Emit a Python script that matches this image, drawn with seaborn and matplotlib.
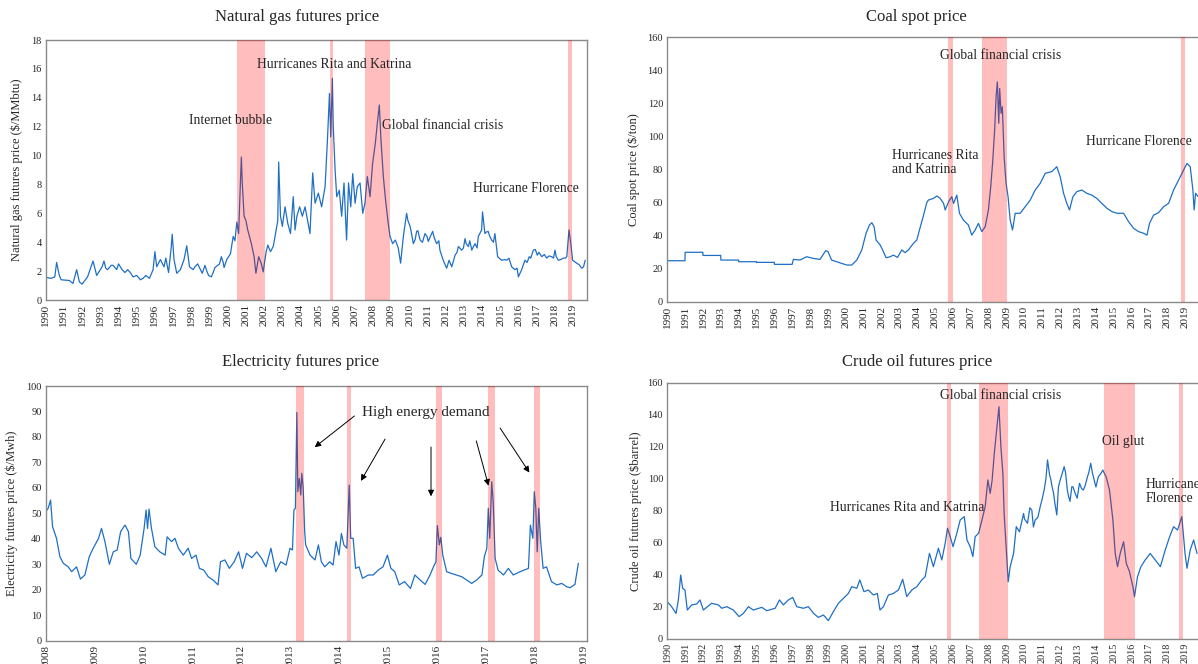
import numpy as np
import pandas as pd
import matplotlib
matplotlib.use("Agg")
import matplotlib.pyplot as plt
import seaborn as sns

# ---------------- data ----------------
gas_t = [1990.0, 1990.3, 1990.5, 1990.6, 1990.75, 1990.85, 1991.3, 1991.5, 1991.7, 1991.85, 1992.0, 1992.3,
         1992.6, 1992.8, 1993.0, 1993.2, 1993.4, 1993.6, 1993.8, 1994.0, 1994.2, 1994.5, 1994.8, 1995.0,
         1995.2, 1995.5, 1995.7, 1995.9, 1996.0, 1996.1, 1996.3, 1996.5, 1996.6, 1996.75, 1996.9, 1996.95,
         1997.05, 1997.2, 1997.4, 1997.6, 1997.75, 1997.9, 1998.1, 1998.35, 1998.6, 1998.75, 1998.95, 1999.1,
         1999.3, 1999.55, 1999.65, 1999.8, 1999.95, 2000.15, 2000.3, 2000.4, 2000.5, 2000.6, 2000.65, 2000.75,
         2000.8, 2000.9, 2001.0, 2001.1, 2001.3, 2001.45, 2001.55, 2001.7, 2001.85, 2001.95, 2002.1, 2002.2,
         2002.35, 2002.5, 2002.6, 2002.75, 2002.8, 2002.9, 2003.0, 2003.15, 2003.3, 2003.45, 2003.6, 2003.7,
         2003.8, 2003.95, 2004.1, 2004.25, 2004.52, 2004.67, 2004.8, 2004.98, 2005.16, 2005.35, 2005.48, 2005.59,
         2005.66, 2005.75, 2005.8, 2005.9, 2005.99, 2006.13, 2006.26, 2006.39, 2006.53, 2006.64, 2006.76, 2006.87,
         2007.0, 2007.12, 2007.27, 2007.42, 2007.54, 2007.67, 2007.82, 2007.96, 2008.11, 2008.22, 2008.33, 2008.42,
         2008.55, 2008.69, 2008.82, 2008.92, 2009.06, 2009.21, 2009.37, 2009.5, 2009.65, 2009.83, 2010.02, 2010.2,
         2010.38, 2010.57, 2010.84, 2011.02, 2011.26, 2011.48, 2011.66, 2011.84, 2012.03, 2012.16, 2012.31, 2012.49,
         2012.67, 2012.85, 2013.04, 2013.22, 2013.41, 2013.59, 2013.77, 2013.95, 2014.0, 2014.13, 2014.31, 2014.5,
         2014.68, 2014.83, 2015.05, 2015.33, 2015.6, 2015.78, 2015.97, 2016.15, 2016.33, 2016.57, 2016.79, 2017.01,
         2017.25, 2017.52, 2017.8, 2017.98, 2018.17, 2018.44, 2018.63, 2018.75, 2018.85, 2018.95, 2019.17, 2019.45,
         2019.64]
gas_v = [1.57, 1.5, 1.6, 2.6, 1.7, 1.4, 1.35, 1.15, 2.1, 1.25, 1.1, 1.6,
         2.7, 1.7, 2.1, 2.7, 2.1, 2.4, 2.25, 2.5, 2.1, 2.1, 1.6, 1.7,
         1.4, 1.7, 1.5, 2.1, 3.35, 2.3, 2.8, 2.3, 2.9, 1.9, 3.7, 4.55,
         2.8, 1.85, 2.1, 2.8, 3.75, 2.3, 2.1, 2.5, 1.85, 2.4, 1.7, 1.6,
         2.25, 2.5, 3.0, 2.25, 2.8, 3.2, 4.4, 4.1, 5.4, 4.6, 6.45, 9.9,
         8.1, 5.8, 5.5, 4.85, 3.9, 3.0, 1.85, 3.0, 2.5, 1.95, 3.25, 3.8,
         3.35, 3.7, 4.4, 5.5, 9.55, 5.8, 5.1, 6.45, 5.3, 4.6, 7.15, 4.85,
         5.8, 6.45, 5.8, 6.45, 4.6, 8.8, 6.7, 7.4, 6.45, 7.85, 11.1, 14.3,
         11.3, 15.35, 12.0, 9.0, 7.15, 7.6, 5.8, 8.1, 4.15, 8.1, 6.45, 8.75,
         6.7, 7.85, 8.1, 6.0, 6.7, 8.55, 7.15, 9.45, 10.85, 12.25, 13.5, 11.1,
         8.55, 6.7, 5.3, 4.4, 3.9, 4.15, 3.6, 2.55, 4.4, 6.0, 5.1, 3.9,
         4.75, 4.15, 4.6, 4.05, 4.75, 3.9, 3.45, 2.75, 2.2, 2.75, 2.3, 3.1,
         3.7, 3.45, 4.25, 3.7, 3.45, 3.9, 4.4, 4.85, 6.1, 4.6, 4.75, 4.15,
         4.6, 3.0, 2.75, 2.75, 2.3, 2.1, 1.6, 2.1, 2.75, 3.0, 3.45, 3.1,
         3.0, 2.9, 3.0, 3.45, 2.75, 2.9, 3.0, 4.85, 3.9, 2.75, 2.55, 2.2,
         2.75]
gas_t_extra = [1993.1, 1993.3, 1993.5, 1993.7, 1993.9, 1994.1, 1994.35, 1994.65, 1995.35, 1995.6,
               1998.2, 1998.5, 1998.85, 1999.2, 1999.45, 1999.75,
               2009.9, 2010.1, 2010.3, 2010.45, 2010.7, 2010.95, 2011.1, 2011.35, 2011.6, 2012.6,
               2012.75, 2012.95, 2013.1, 2013.3, 2013.5, 2013.7, 2014.2, 2014.4, 2014.6, 2015.2,
               2015.45, 2015.9, 2016.45, 2016.65, 2016.9, 2017.1, 2017.4, 2017.65, 2017.9, 2018.05,
               2018.3, 2018.55, 2019.3, 2019.55]
gas_v_extra = [2.3, 2.2, 2.25, 2.4, 2.1, 2.3, 1.9, 1.9, 1.5, 1.6,
               2.3, 2.1, 2.0, 1.9, 2.4, 2.6,
               5.5, 4.6, 4.2, 4.8, 4.0, 4.4, 4.3, 4.3, 4.1, 3.3,
               3.6, 3.6, 3.9, 4.1, 3.7, 3.6, 4.7, 4.4, 4.0, 2.8,
               2.9, 2.2, 2.6, 2.9, 3.5, 3.3, 3.15, 3.05, 2.9, 3.0,
               2.8, 2.9, 2.45, 2.3]

coal_t = [1990.0, 1990.99, 1991.0, 1991.99, 1992.0, 1992.99, 1993.0, 1993.99, 1994.0, 1994.99, 1995.0, 1995.99,
          1996.0, 1996.99, 1997.06, 1997.43, 1997.8, 1998.18, 1998.55, 1998.87, 1999.0, 1999.2, 1999.48, 1999.76,
          2000.05, 2000.33, 2000.61, 2000.89, 2001.13, 2001.32, 2001.45, 2001.58, 2001.69, 2001.92, 2002.1, 2002.25,
          2002.48, 2002.66, 2002.89, 2003.13, 2003.31, 2003.5, 2003.78, 2003.97, 2004.16, 2004.34, 2004.53, 2004.62,
          2004.9, 2005.1, 2005.28, 2005.47, 2005.56, 2005.75, 2005.93, 2006.03, 2006.21, 2006.36, 2006.58, 2006.86,
          2007.05, 2007.24, 2007.42, 2007.61, 2007.8, 2007.98, 2008.11, 2008.22, 2008.33, 2008.41, 2008.48, 2008.56,
          2008.61, 2008.69, 2008.76, 2008.86, 2008.97, 2009.08, 2009.2, 2009.33, 2009.48, 2009.76, 2010.04, 2010.32,
          2010.6, 2010.88, 2011.16, 2011.53, 2011.81, 2012.0, 2012.19, 2012.37, 2012.52, 2012.71, 2012.93, 2013.21,
          2013.49, 2013.77, 2014.05, 2014.33, 2014.62, 2014.9, 2015.18, 2015.55, 2015.83, 2016.11, 2016.39, 2016.67,
          2016.86, 2017.0, 2017.23, 2017.51, 2017.79, 2018.07, 2018.35, 2018.63, 2018.91, 2019.1, 2019.28, 2019.43,
          2019.5, 2019.58, 2019.73]
coal_v = [24.8, 24.8, 29.9, 29.9, 28.0, 28.0, 25.2, 25.2, 24.2, 24.2, 23.8, 23.8,
          22.6, 22.6, 25.6, 25.2, 27.2, 26.2, 25.6, 30.9, 30.3, 25.2, 24.2, 23.2,
          22.2, 22.2, 25.2, 31.3, 41.4, 46.4, 47.8, 45.4, 37.3, 34.3, 30.3, 26.6,
          27.2, 28.2, 26.8, 31.3, 29.7, 31.3, 35.3, 37.3, 45.0, 52.0, 60.0, 61.5,
          62.5, 64.0, 62.5, 59.5, 55.5, 60.5, 63.5, 59.5, 64.5, 53.5, 49.4, 46.4,
          40.3, 43.4, 47.4, 42.4, 45.4, 55.5, 69.6, 84.7, 103.9, 124.0, 133.0, 108.0,
          129.0, 114.0, 118.0, 87.7, 71.6, 63.5, 49.4, 43.4, 53.5, 53.5, 57.5, 61.5,
          67.6, 71.6, 77.7, 78.7, 81.7, 75.6, 65.6, 59.5, 55.5, 63.5, 66.6, 67.6,
          65.6, 64.5, 62.5, 59.5, 56.5, 54.5, 53.5, 53.5, 48.4, 44.4, 42.4, 41.4,
          40.3, 47.4, 52.4, 53.9, 57.5, 59.5, 67.6, 73.6, 79.7, 83.7, 81.7, 67.6,
          55.5, 65.6, 63.5]

elec_t = [2008.0, 2008.05, 2008.1, 2008.14, 2008.22, 2008.29, 2008.36, 2008.46, 2008.53, 2008.63, 2008.71, 2008.8,
          2008.89, 2008.97, 2009.08, 2009.14, 2009.21, 2009.3, 2009.38, 2009.46, 2009.53, 2009.62, 2009.69, 2009.74,
          2009.85, 2009.93, 2010.01, 2010.05, 2010.08, 2010.11, 2010.16, 2010.23, 2010.33, 2010.44, 2010.48, 2010.57,
          2010.64, 2010.71, 2010.81, 2010.91, 2010.98, 2011.07, 2011.14, 2011.23, 2011.32, 2011.42, 2011.52, 2011.57,
          2011.66, 2011.75, 2011.85, 2011.94, 2012.02, 2012.1, 2012.21, 2012.31, 2012.41, 2012.5, 2012.6, 2012.7,
          2012.8, 2012.91, 2012.99, 2013.04, 2013.07, 2013.1, 2013.13, 2013.15, 2013.18, 2013.21, 2013.23, 2013.26,
          2013.29, 2013.31, 2013.4, 2013.5, 2013.57, 2013.63, 2013.7, 2013.8, 2013.87, 2013.93, 2013.99, 2014.04,
          2014.09, 2014.15, 2014.2, 2014.23, 2014.28, 2014.33, 2014.4, 2014.47, 2014.59, 2014.69, 2014.79, 2014.89,
          2014.98, 2015.05, 2015.13, 2015.22, 2015.33, 2015.45, 2015.54, 2015.65, 2015.75, 2015.85, 2015.92, 2015.97,
          2016.0, 2016.04, 2016.07, 2016.11, 2016.19, 2016.29, 2016.39, 2016.5, 2016.6, 2016.7, 2016.8, 2016.91,
          2016.96, 2017.01, 2017.04, 2017.07, 2017.11, 2017.14, 2017.18, 2017.24, 2017.35, 2017.45, 2017.55, 2017.69,
          2017.86, 2017.9, 2017.95, 2017.98, 2018.01, 2018.04, 2018.07, 2018.11, 2018.16, 2018.23, 2018.33, 2018.44,
          2018.54, 2018.64, 2018.71, 2018.81, 2018.88]
elec_v = [50.6, 52.0, 55.2, 44.8, 40.2, 33.0, 30.4, 29.0, 27.1, 29.0, 24.2, 25.8,
          33.0, 36.3, 40.2, 44.1, 38.9, 30.0, 34.9, 35.6, 42.8, 45.4, 42.8, 32.3,
          30.0, 33.6, 44.1, 51.3, 44.1, 51.7, 44.1, 36.9, 34.9, 33.6, 40.8, 38.9,
          40.2, 36.3, 33.6, 36.3, 32.3, 33.6, 28.4, 27.7, 25.1, 23.8, 21.9, 31.0,
          31.7, 28.4, 31.0, 34.9, 28.4, 34.3, 32.6, 34.9, 32.3, 29.0, 36.3, 27.1,
          31.0, 29.7, 36.3, 35.6, 51.3, 52.0, 89.6, 58.5, 63.7, 57.2, 65.7, 59.8,
          42.8, 37.6, 33.6, 31.7, 37.6, 31.0, 29.0, 31.0, 29.7, 38.9, 33.6, 42.1,
          37.6, 36.3, 61.1, 40.2, 40.2, 28.4, 29.0, 24.5, 25.8, 25.8, 27.7, 29.0,
          33.6, 28.4, 27.1, 21.9, 23.2, 20.5, 25.8, 23.8, 22.1, 25.8, 29.0, 31.0,
          45.2, 37.6, 40.6, 33.6, 27.1, 26.4, 25.8, 25.1, 23.8, 22.5, 23.8, 25.8,
          33.0, 36.3, 52.0, 40.2, 62.4, 54.6, 32.3, 27.7, 25.8, 28.4, 25.8, 27.1,
          28.4, 45.4, 40.2, 58.5, 52.0, 34.9, 52.0, 38.9, 28.4, 29.0, 23.2, 21.9,
          22.5, 21.2, 20.8, 22.1, 30.4]

oil_t = [1990.0, 1990.24, 1990.49, 1990.62, 1990.75, 1990.86, 1990.99, 1991.12, 1991.37, 1991.65, 1991.83, 1992.02,
         1992.48, 1992.86, 1993.05, 1993.33, 1993.7, 1994.02, 1994.26, 1994.54, 1994.82, 1995.29, 1995.57, 1996.04,
         1996.28, 1996.5, 1996.78, 1997.02, 1997.25, 1997.62, 1997.9, 1998.19, 1998.46, 1998.74, 1999.02, 1999.3,
         1999.58, 1999.86, 2000.14, 2000.33, 2000.61, 2000.78, 2001.01, 2001.26, 2001.54, 2001.76, 2001.91, 2002.1,
         2002.38, 2002.66, 2002.94, 2003.18, 2003.41, 2003.69, 2003.97, 2004.25, 2004.44, 2004.68, 2004.9, 2005.18,
         2005.37, 2005.56, 2005.69, 2005.84, 2006.0, 2006.21, 2006.4, 2006.63, 2006.78, 2006.96, 2007.11, 2007.24,
         2007.43, 2007.62, 2007.8, 2007.95, 2008.08, 2008.19, 2008.31, 2008.42, 2008.57, 2008.68, 2008.79, 2008.86,
         2008.97, 2009.09, 2009.2, 2009.39, 2009.54, 2009.72, 2009.95, 2010.17, 2010.41, 2010.6, 2010.88, 2011.1,
         2011.29, 2011.48, 2011.63, 2011.81, 2012.0, 2012.22, 2012.47, 2012.65, 2012.84, 2013.08, 2013.3, 2013.53,
         2013.71, 2013.9, 2014.14, 2014.39, 2014.57, 2014.76, 2014.95, 2015.08, 2015.21, 2015.36, 2015.55, 2015.7,
         2015.88, 2016.07, 2016.16, 2016.33, 2016.52, 2016.76, 2017.04, 2017.32, 2017.61, 2017.88, 2018.13, 2018.35,
         2018.57, 2018.81, 2018.99, 2019.1, 2019.28, 2019.47, 2019.66]
oil_v = [23.3, 20.2, 16.0, 24.4, 40.0, 31.7, 30.6, 18.1, 21.3, 21.9, 24.4, 18.1,
         22.3, 21.3, 19.2, 20.2, 18.1, 14.0, 16.0, 20.2, 18.1, 19.8, 17.7, 19.2,
         24.4, 21.3, 24.4, 26.0, 20.2, 19.2, 20.2, 16.0, 13.5, 15.0, 11.5, 17.1,
         22.3, 25.4, 28.5, 32.7, 31.7, 36.9, 29.6, 30.6, 27.5, 28.5, 18.1, 20.2,
         27.5, 28.5, 30.6, 37.3, 26.5, 30.6, 32.7, 36.9, 39.0, 53.5, 45.2, 56.7,
         49.4, 59.8, 69.2, 64.0, 57.7, 66.0, 74.4, 76.5, 61.9, 57.7, 51.5, 64.0,
         66.0, 74.4, 82.7, 99.4, 91.0, 99.4, 116.0, 128.5, 145.2, 120.0, 103.5, 78.5,
         57.7, 35.8, 45.2, 53.5, 70.2, 67.0, 78.5, 72.3, 80.6, 74.4, 82.7, 93.1,
         111.9, 99.4, 91.0, 77.5, 99.4, 107.7, 89.0, 95.2, 91.0, 97.3, 93.1, 101.5,
         109.8, 99.4, 101.5, 105.6, 101.5, 93.1, 74.4, 53.5, 45.2, 53.5, 60.8, 47.3,
         42.1, 32.7, 26.5, 39.0, 45.2, 49.4, 53.5, 49.4, 45.2, 55.6, 64.0, 70.2,
         68.1, 76.5, 53.5, 44.2, 55.6, 61.9, 53.5]
oil_t_extra = [2010.0, 2010.3, 2010.5, 2010.75, 2011.0, 2011.2, 2011.4, 2011.55, 2011.7, 2011.9,
               2012.1, 2012.3, 2012.4, 2012.55, 2012.72, 2012.95, 2013.2, 2013.4, 2013.6, 2013.8,
               2014.0, 2014.25, 2014.45]
oil_v_extra = [75.0, 82.0, 70.0, 76.0, 88.0, 100.0, 103.0, 95.0, 85.0, 95.0,
               103.0, 104.0, 93.0, 86.0, 95.0, 88.0, 94.0, 96.0, 104.0, 104.0,
               95.0, 103.0, 104.0]

gas_years = list(range(1990, 2020))
elec_years = list(range(2008, 2020))

gas_bands = [(2000.5, 2002.05), (2005.62, 2005.8), (2007.54, 2008.9), (2018.7, 2018.9)]
coal_bands = [(2005.7, 2006.0), (2007.63, 2009.03), (2018.74, 2019.0)]
elec_bands = [(2013.11, 2013.27), (2014.16, 2014.24), (2015.97, 2016.1), (2017.03, 2017.18), (2017.97, 2018.09)]
oil_bands = [(2005.65, 2005.9), (2007.48, 2009.05), (2014.46, 2016.2), (2018.68, 2018.9)]

# ---------------- style ----------------
sns.set_style("white")
plt.rcParams["font.family"] = ["Liberation Serif", "DejaVu Serif"]

W, H = 1198, 664
fig = plt.figure(figsize=(W / 100, H / 100), dpi=100)

def rect(l, r, t, b):
    return [l / W, 1 - b / H, (r - l) / W, (b - t) / H]

LINE = "#1f6fc5"
SPINE = "#8a8a8a"

def style_axes(ax, years, xfs):
    for s in ax.spines.values():
        s.set_color(SPINE)
        s.set_linewidth(1.0)
    ax.set_xticks(years)
    ax.set_xticklabels([str(y) for y in years], rotation=90, fontsize=xfs)
    ax.tick_params(axis="x", length=2, width=0.6, color=SPINE, pad=1)
    ax.tick_params(axis="y", length=0, labelsize=7.5, pad=3)
    ax.set_xlabel("")
    ax.set_ylabel("")
    ax.grid(False)

def make_df(t, v, te=None, ve=None):
    df = pd.DataFrame({"t": t, "v": v})
    if te is not None:
        df = pd.concat([df, pd.DataFrame({"t": te, "v": ve})])
    return df.sort_values("t").reset_index(drop=True)

def panel(r, df, xlim, ylim, yticks, bands, years, xfs=8.0):
    ax = fig.add_axes(r)
    sns.lineplot(data=df, x="t", y="v", ax=ax, color=LINE, linewidth=0.9, zorder=2, sort=True)
    for a, b in bands:
        ax.axvspan(a, b, color="red", alpha=0.26, lw=0, zorder=3)
    ax.set_xlim(*xlim)
    ax.set_ylim(*ylim)
    ax.set_yticks(yticks)
    style_axes(ax, years, xfs)
    return ax

ax1 = panel(rect(45.7, 587, 40, 300), make_df(gas_t, gas_v, gas_t_extra, gas_v_extra),
            (1990, 2019.74), (0, 18), range(0, 19, 2), gas_bands, gas_years)
ax2 = panel(rect(667.3, 1199.5, 37.3, 301.7), make_df(coal_t, coal_v),
            (1990, 2019.8), (0, 160), range(0, 161, 20), coal_bands, gas_years)
ax3 = panel(rect(45.7, 586.7, 386, 640.7), make_df(elec_t, elec_v),
            (2008, 2019.05), (0, 100), range(0, 101, 10), elec_bands, elec_years)
ax4 = panel(rect(667.3, 1199.5, 383, 639), make_df(oil_t, oil_v, oil_t_extra, oil_v_extra),
            (1990, 2019.8), (0, 160), range(0, 161, 20), oil_bands, gas_years, xfs=7.3)

TFS = 12
AFS = 9.8
fig.text(297 / W, 1 - 17 / H, "Natural gas futures price", ha="center", va="center", fontsize=TFS)
fig.text(916 / W, 1 - 17 / H, "Coal spot price", ha="center", va="center", fontsize=TFS)
fig.text(301 / W, 1 - 362 / H, "Electricity futures price", ha="center", va="center", fontsize=TFS)
fig.text(917 / W, 1 - 362 / H, "Crude oil futures price", ha="center", va="center", fontsize=TFS)

YFS = 9.0
fig.text(17 / W, 1 - 170 / H, "Natural gas futures price ($/MMbtu)", rotation=90, ha="center", va="center", fontsize=YFS)
fig.text(634 / W, 1 - 170 / H, "Coal spot price ($/ton)", rotation=90, ha="center", va="center", fontsize=YFS)
fig.text(12 / W, 1 - 513 / H, "Electricity futures price ($/Mwh)", rotation=90, ha="center", va="center", fontsize=YFS)
fig.text(636 / W, 1 - 511 / H, "Crude oil futures price ($barrel)", rotation=90, ha="center", va="center", fontsize=YFS)

# annotations: natural gas
ax1.text(1997.89, 12.42, "Internet bubble", fontsize=AFS, va="center", ha="left")
ax1.text(2001.59, 16.32, "Hurricanes Rita and Katrina", fontsize=AFS, va="center", ha="left")
ax1.text(2008.49, 12.1, "Global financial crisis", fontsize=AFS, va="center", ha="left")
ax1.text(2013.46, 7.73, "Hurricane Florence", fontsize=AFS, va="center", ha="left")

# coal
ax2.text(2008.64, 148.7, "Global financial crisis", fontsize=AFS, va="center", ha="center")
ax2.text(2002.57, 84.5, "Hurricanes Rita\nand Katrina", fontsize=AFS, va="center", ha="left", linespacing=1.1)
ax2.text(2013.46, 96.9, "Hurricane Florence", fontsize=AFS, va="center", ha="left")

# oil
ax4.text(2008.65, 152, "Global financial crisis", fontsize=AFS, va="center", ha="center")
ax4.text(2014.35, 123.3, "Oil glut", fontsize=AFS, va="center", ha="left")
ax4.text(2016.78, 92, "Hurricane\nFlorence", fontsize=AFS, va="center", ha="left", linespacing=1.1)
ax4.text(1999.12, 82, "Hurricanes Rita and Katrina", fontsize=AFS, va="center", ha="left")

# electricity arrows
ax3.text(2014.47, 89.4, "High energy demand", fontsize=11, va="center", ha="left")
arrows = [((2014.35, 88.9), (2013.45, 75.3)),
          ((2014.96, 80.1), (2014.41, 61.8)),
          ((2015.87, 77.1), (2015.87, 55.6)),
          ((2016.78, 79.5), (2017.06, 59.8)),
          ((2017.25, 84.4), (2017.91, 65.1))]
for tail, head in arrows:
    ax3.annotate("", xy=head, xytext=tail,
                 arrowprops=dict(arrowstyle="-|>", color="black", lw=0.7, mutation_scale=9))

fig.savefig("out.png", dpi=100)
